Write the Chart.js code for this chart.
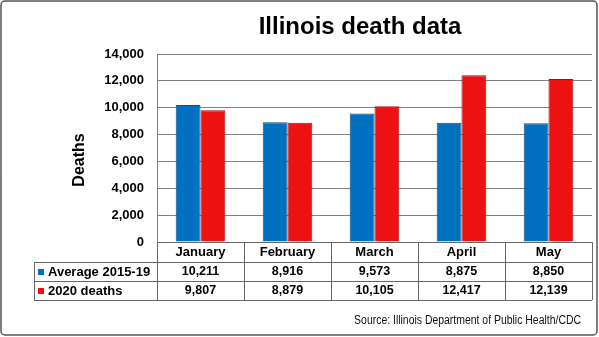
<!DOCTYPE html>
<html><head><meta charset="utf-8">
<script src="https://cdn.jsdelivr.net/npm/chart.js@4/dist/chart.umd.min.js"></script>
<style>html,body{margin:0;padding:0;background:#fff}#wrap{width:599px;height:337px;position:relative}</style>
</head><body><div id="wrap"><canvas id="c" width="599" height="337"></canvas></div>
<script>
const titleText = 'Illinois death data';
const axisTitle = 'Deaths';
const sourceText = 'Source: Illinois Department of Public Health/CDC';
const categories = ['January', 'February', 'March', 'April', 'May'];
const seriesNames = ['Average 2015-19', '2020 deaths'];
const avg2015_19 = [10211, 8916, 9573, 8875, 8850];
const deaths2020 = [9807, 8879, 10105, 12417, 12139];
const yMin = 0, yMax = 14000, yStep = 2000;

const FONT = "'Liberation Sans', Arial, sans-serif";
const colors = ['#0070C0', '#EE1111'];
const borders = ['#0b4f8a', '#a50d0d'];
const fmt = v => v.toLocaleString('en-US');

const decor = {
  id: 'decor',
  afterDraw(chart) {
    const ctx = chart.ctx;
    const xs = chart.scales.x;
    const ca = chart.chartArea;
    const n = categories.length;
    const w = (xs.right - xs.left) / n;
    const headTop = ca.bottom, headBot = xs.bottom;
    const rowH = 19;
    const tableLeft = 34;
    const tableBot = headBot + rowH * seriesNames.length;
    ctx.save();
    // table lines
    ctx.strokeStyle = '#666';
    ctx.lineWidth = 1;
    ctx.beginPath();
    for (let i = 0; i <= n; i++) {
      const x = Math.round(xs.left + i * w) + 0.5;
      ctx.moveTo(x, headTop); ctx.lineTo(x, tableBot);
    }
    ctx.moveTo(tableLeft + 0.5, headBot); ctx.lineTo(tableLeft + 0.5, tableBot);
    for (let r = 0; r <= seriesNames.length; r++) {
      const y = Math.round(headBot + r * rowH) + 0.5;
      ctx.moveTo(tableLeft, y); ctx.lineTo(xs.right, y);
    }
    ctx.stroke();
    // table text
    const data = [avg2015_19, deaths2020];
    ctx.fillStyle = '#000';
    ctx.textBaseline = 'middle';
    for (let r = 0; r < seriesNames.length; r++) {
      const cy = headBot + r * rowH + rowH / 2 + 0.5;
      ctx.fillStyle = colors[r];
      ctx.fillRect(tableLeft + 4, cy - 3, 6, 6);
      ctx.fillStyle = '#000';
      ctx.font = 'bold 13px ' + FONT;
      ctx.textAlign = 'left';
      ctx.fillText(seriesNames[r], tableLeft + 14, cy);
      ctx.font = 'bold 12.5px ' + FONT;
      ctx.textAlign = 'center';
      for (let i = 0; i < n; i++) {
        ctx.fillText(fmt(data[r][i]), xs.getPixelForValue(i), cy);
      }
    }
    // title
    ctx.font = 'bold 24px ' + FONT;
    ctx.textAlign = 'center';
    ctx.textBaseline = 'alphabetic';
    ctx.fillText(titleText, 360, 34);
    // axis title
    ctx.save();
    ctx.translate(80, 160);
    ctx.rotate(-Math.PI / 2);
    ctx.font = 'bold 16px ' + FONT;
    ctx.textBaseline = 'middle';
    ctx.fillText(axisTitle, 0, 0);
    ctx.restore();
    // source (condensed)
    ctx.save();
    ctx.translate(581, 324);
    ctx.scale(0.87, 1);
    ctx.font = '12px ' + FONT;
    ctx.textAlign = 'right';
    ctx.textBaseline = 'alphabetic';
    ctx.fillStyle = '#111';
    ctx.fillText(sourceText, 0, 0);
    ctx.restore();
    // outer border
    ctx.strokeStyle = '#555';
    ctx.lineWidth = 1.5;
    ctx.beginPath();
    ctx.roundRect(1, 1, 596, 334, 4);
    ctx.stroke();
    ctx.restore();
  }
};

new Chart(document.getElementById('c'), {
  type: 'bar',
  data: {
    labels: categories,
    datasets: [
      { label: seriesNames[0], data: avg2015_19, backgroundColor: colors[0], borderColor: borders[0], borderWidth: 1 },
      { label: seriesNames[1], data: deaths2020, backgroundColor: colors[1], borderColor: borders[1], borderWidth: 1 }
    ]
  },
  options: {
    responsive: false,
    devicePixelRatio: 1,
    animation: false,
    layout: { padding: { top: 54, left: 72, right: 7, bottom: 75 } },
    datasets: { bar: { categoryPercentage: 0.57, barPercentage: 1.0 } },
    plugins: { legend: { display: false }, tooltip: { enabled: false }, title: { display: false } },
    scales: {
      x: {
        grid: { display: false, drawTicks: false },
        border: { display: true, color: '#666', width: 1 },
        ticks: { font: { family: FONT, size: 13, weight: 'bold' }, color: '#000', padding: 3, maxRotation: 0 },
        afterFit(s) { s.height = 20; }
      },
      y: {
        min: yMin, max: yMax,
        ticks: { stepSize: yStep, callback: v => fmt(v), font: { family: FONT, size: 13, weight: 'bold' }, color: '#000', padding: 13 },
        grid: { color: '#808080', drawTicks: false },
        border: { display: true, color: '#808080', width: 1 },
        afterFit(s) { s.width = 85; }
      }
    }
  },
  plugins: [decor]
});
</script>
</body></html>
